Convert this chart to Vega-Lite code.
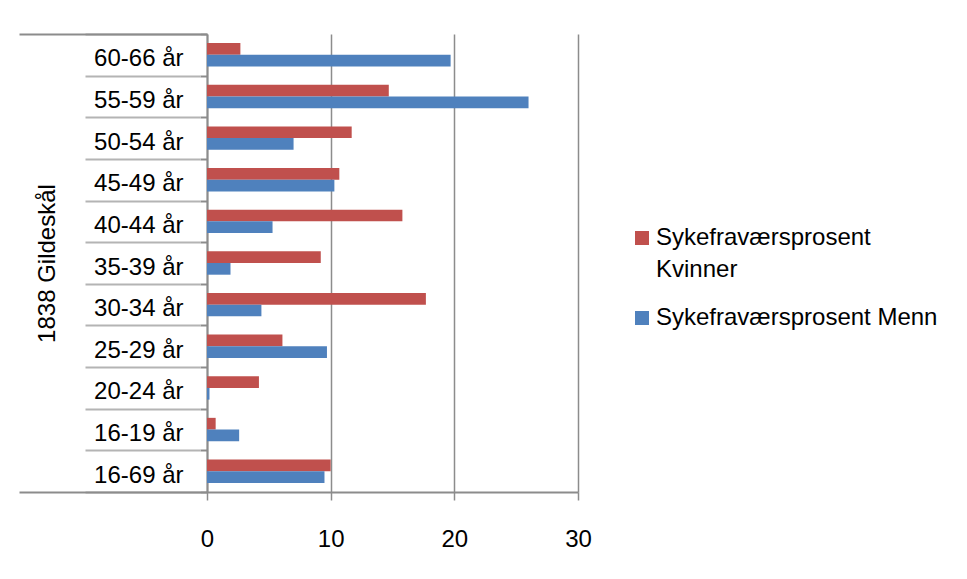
{
  "$schema": "https://vega.github.io/schema/vega-lite/v6.json",
  "width": 371,
  "height": 458,
  "autosize": {"type": "none"},
  "padding": {"left": 207, "top": 34, "right": 389, "bottom": 87},
  "background": "white",
  "config": {
    "view": {"stroke": null},
    "font": "Liberation Sans",
    "axis": {"labelFont": "Liberation Sans", "titleFont": "Liberation Sans"},
    "legend": {"labelFont": "Liberation Sans"}
  },
  "data": {
    "values": [
      {"alder": "60-66 år", "serie": "Sykefraværsprosent Kvinner", "verdi": 2.7},
      {"alder": "60-66 år", "serie": "Sykefraværsprosent Menn", "verdi": 19.7},
      {"alder": "55-59 år", "serie": "Sykefraværsprosent Kvinner", "verdi": 14.7},
      {"alder": "55-59 år", "serie": "Sykefraværsprosent Menn", "verdi": 26.0},
      {"alder": "50-54 år", "serie": "Sykefraværsprosent Kvinner", "verdi": 11.7},
      {"alder": "50-54 år", "serie": "Sykefraværsprosent Menn", "verdi": 7.0},
      {"alder": "45-49 år", "serie": "Sykefraværsprosent Kvinner", "verdi": 10.7},
      {"alder": "45-49 år", "serie": "Sykefraværsprosent Menn", "verdi": 10.3},
      {"alder": "40-44 år", "serie": "Sykefraværsprosent Kvinner", "verdi": 15.8},
      {"alder": "40-44 år", "serie": "Sykefraværsprosent Menn", "verdi": 5.3},
      {"alder": "35-39 år", "serie": "Sykefraværsprosent Kvinner", "verdi": 9.2},
      {"alder": "35-39 år", "serie": "Sykefraværsprosent Menn", "verdi": 1.9},
      {"alder": "30-34 år", "serie": "Sykefraværsprosent Kvinner", "verdi": 17.7},
      {"alder": "30-34 år", "serie": "Sykefraværsprosent Menn", "verdi": 4.4},
      {"alder": "25-29 år", "serie": "Sykefraværsprosent Kvinner", "verdi": 6.1},
      {"alder": "25-29 år", "serie": "Sykefraværsprosent Menn", "verdi": 9.7},
      {"alder": "20-24 år", "serie": "Sykefraværsprosent Kvinner", "verdi": 4.2},
      {"alder": "20-24 år", "serie": "Sykefraværsprosent Menn", "verdi": 0.2},
      {"alder": "16-19 år", "serie": "Sykefraværsprosent Kvinner", "verdi": 0.7},
      {"alder": "16-19 år", "serie": "Sykefraværsprosent Menn", "verdi": 2.6},
      {"alder": "16-69 år", "serie": "Sykefraværsprosent Kvinner", "verdi": 10.0},
      {"alder": "16-69 år", "serie": "Sykefraværsprosent Menn", "verdi": 9.5}
    ]
  },
  "encoding": {
    "yOffset": {
      "field": "serie",
      "type": "nominal",
      "sort": ["Sykefraværsprosent Kvinner", "Sykefraværsprosent Menn"],
      "scale": {"paddingInner": 0, "paddingOuter": 0.78}
    },
    "x": {
      "field": "verdi",
      "type": "quantitative",
      "scale": {"domain": [0, 30], "nice": false},
      "axis": {
        "values": [0, 10, 20, 30],
        "title": null,
        "grid": true,
        "gridColor": "#8c8c8c",
        "gridWidth": 1.5,
        "domainColor": "#8c8c8c",
        "domainWidth": 2,
        "tickColor": "#8c8c8c",
        "tickWidth": 1.5,
        "tickSize": 8,
        "labelFontSize": 24,
        "labelColor": "#000000",
        "labelPadding": 27,
        "labelFlush": false
      }
    }
  },
  "layer": [
    {
      "mark": {"type": "bar"},
      "encoding": {
        "y": {
          "field": "alder",
          "type": "nominal",
          "sort": ["60-66 år", "55-59 år", "50-54 år", "45-49 år", "40-44 år", "35-39 år", "30-34 år", "25-29 år", "20-24 år", "16-19 år", "16-69 år"],
          "scale": {"paddingInner": 0, "paddingOuter": 0},
          "axis": {
            "orient": "left",
            "title": "1838 Gildeskål",
            "titleFontSize": 24,
            "titleFontWeight": "normal",
            "titleColor": "#000000",
            "titlePadding": 34,
            "labelFontSize": 24,
            "labelColor": "#000000",
            "labelPadding": 17,
            "labelOffset": 4,
            "labelLimit": 300,
            "tickBand": "extent",
            "tickSize": 7,
            "tickColor": "#8c8c8c",
            "tickWidth": 2,
            "domainColor": "#8c8c8c",
            "domainWidth": 2
          }
        },
        "color": {
          "field": "serie",
          "type": "nominal",
          "sort": ["Sykefraværsprosent Kvinner", "Sykefraværsprosent Menn"],
          "scale": {"domain": ["Sykefraværsprosent Kvinner", "Sykefraværsprosent Menn"], "range": ["#C0504D", "#4F81BD"]},
          "legend": {
            "orient": "none",
            "legendX": 423,
            "legendY": 192,
            "title": null,
            "padding": 0,
            "symbolType": "square",
            "symbolSize": 196,
            "symbolStrokeWidth": 0,
            "labelFontSize": 24,
            "labelColor": "#000000",
            "labelOffset": 2,
            "labelLimit": 400,
            "rowPadding": 24,
            "labelExpr": "datum.label == 'Sykefraværsprosent Kvinner' ? ['Sykefraværsprosent', 'Kvinner'] : datum.label",
            "labelBaseline": "middle",
            "encode": {"labels": {"update": {"lineHeight": {"value": 32}}}}
          }
        }
      }
    },
    {
      "mark": {"type": "bar", "opacity": 0},
      "encoding": {
        "y": {
          "field": "alder",
          "type": "nominal",
          "sort": ["60-66 år", "55-59 år", "50-54 år", "45-49 år", "40-44 år", "35-39 år", "30-34 år", "25-29 år", "20-24 år", "16-19 år", "16-69 år"],
          "scale": {"paddingInner": 0, "paddingOuter": 0},
          "axis": {
            "orient": "left",
            "title": null,
            "labels": false,
            "domain": false,
            "tickBand": "extent",
            "offset": 7,
            "tickSize": 115,
            "tickColor": "#b4b4b4",
            "tickWidth": 2
          }
        }
      }
    },
    {
      "mark": {"type": "bar", "opacity": 0},
      "encoding": {
        "y": {
          "field": "alder",
          "type": "nominal",
          "sort": ["60-66 år", "55-59 år", "50-54 år", "45-49 år", "40-44 år", "35-39 år", "30-34 år", "25-29 år", "20-24 år", "16-19 år", "16-69 år"],
          "scale": {"paddingInner": 0, "paddingOuter": 0},
          "axis": {
            "orient": "left",
            "title": null,
            "labels": false,
            "domain": false,
            "values": ["60-66 år"],
            "bandPosition": 0,
            "tickSize": 188,
            "tickColor": "#8c8c8c",
            "tickWidth": 2
          }
        }
      }
    },
    {
      "mark": {"type": "bar", "opacity": 0},
      "encoding": {
        "y": {
          "field": "alder",
          "type": "nominal",
          "sort": ["60-66 år", "55-59 år", "50-54 år", "45-49 år", "40-44 år", "35-39 år", "30-34 år", "25-29 år", "20-24 år", "16-19 år", "16-69 år"],
          "scale": {"paddingInner": 0, "paddingOuter": 0},
          "axis": {
            "orient": "left",
            "title": null,
            "labels": false,
            "domain": false,
            "values": ["16-69 år"],
            "bandPosition": 1,
            "tickSize": 188,
            "tickColor": "#8c8c8c",
            "tickWidth": 2
          }
        }
      }
    }
  ],
  "resolve": {"axis": {"y": "independent"}}
}
